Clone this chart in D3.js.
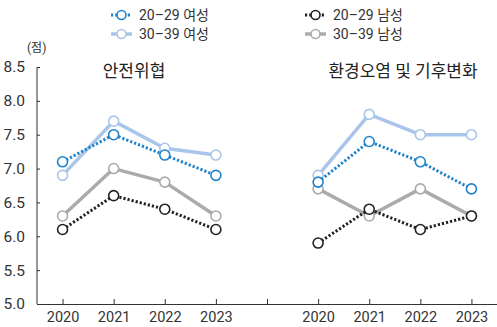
<!DOCTYPE html>
<html><head><meta charset="utf-8">
<script src="https://cdn.jsdelivr.net/npm/d3@7"></script>
<style>
body{margin:0;background:#fff;}
svg{display:block;font-family:"Roboto","Liberation Sans","Noto Sans CJK KR",sans-serif;}
.num{font-family:"Liberation Sans Narrow","Roboto","Noto Sans CJK KR",sans-serif;}
</style></head>
<body><svg id="c" width="497" height="327"></svg>
<script>
const years = ["2020","2021","2022","2023"];
const panels = ["안전위협","환경오염 및 기후변화"];
const yTicks = [5.0,5.5,6.0,6.5,7.0,7.5,8.0,8.5];
const seriesNames = ["20\u201329 여성","30\u201339 여성","20\u201329 남성","30\u201339 남성"];
// values per panel [안전위협, 환경오염 및 기후변화]
const f2029 = [[7.1,7.5,7.2,6.9],[6.8,7.4,7.1,6.7]];
const f3039 = [[6.9,7.7,7.3,7.2],[6.9,7.8,7.5,7.5]];
const m2029 = [[6.1,6.6,6.4,6.1],[5.9,6.4,6.1,6.3]];
const m3039 = [[6.3,7.0,6.8,6.3],[6.7,6.3,6.7,6.3]];

const styles = {
  "20\u201329 여성":{color:"#1f83cc",dash:"2.2,2",width:3},
  "30\u201339 여성":{color:"#a9c6ea",dash:null,width:3.5},
  "20\u201329 남성":{color:"#222",dash:"2.2,2",width:3},
  "30\u201339 남성":{color:"#ababab",dash:null,width:3.5}
};
const seriesData = {
  "20\u201329 여성":f2029,"30\u201339 여성":f3039,"20\u201329 남성":m2029,"30\u201339 남성":m3039
};

const svg = d3.select("#c");
const pL=37, pR=497, pT=67, pB=304;
const slots = [];
years.forEach(y=>slots.push("0_"+y));
slots.push("gap");
years.forEach(y=>slots.push("1_"+y));
const x = d3.scalePoint().domain(slots).range([pL,pR]).padding(0.5);
const y = d3.scaleLinear().domain([5,8.5]).range([pB,pT]);

const txt="#333";
// y axis
const ya = svg.append("g").attr("transform",`translate(${pL},0)`)
  .call(d3.axisLeft(y).tickValues(yTicks).tickFormat(d3.format(".1f")).tickSize(-3).tickPadding(12));
ya.select(".domain").attr("d",`M0,${pT}V${pB}`).attr("stroke","#333");
ya.selectAll(".tick line").attr("stroke","#333");
ya.selectAll("text").attr("class","num").attr("font-size",15.5).attr("fill",txt);

// x axis
const xa = svg.append("g").attr("transform",`translate(0,${pB})`)
  .call(d3.axisBottom(x).tickSize(-5).tickPadding(8).tickFormat(d=>d==="gap"?"":d.split("_")[1]));
xa.select(".domain").attr("d",`M${pL},0.5H${pR}`).attr("stroke","#333");
xa.selectAll(".tick line").attr("stroke","#333");
xa.selectAll("text").attr("class","num").attr("font-size",14.5).attr("fill",txt);

// unit
svg.append("text").attr("x",27).attr("y",52).attr("font-size",12).attr("fill",txt).text("(점)");

// panel titles
const titleX = [134, 403];
panels.forEach((p,i)=>{
  svg.append("text").attr("x",titleX[i]).attr("y",77).attr("text-anchor","middle")
    .attr("font-size",17).attr("fill","#222").text(p);
});

const drawOrder = ["30\u201339 남성","20\u201329 남성","30\u201339 여성","20\u201329 여성"];
const line = d3.line().x(d=>x(d.k)).y(d=>y(d.v));
drawOrder.forEach(name=>{
  const st = styles[name];
  panels.forEach((p,pi)=>{
    const pts = years.map((yr,i)=>({k:pi+"_"+yr,v:seriesData[name][pi][i]}));
    svg.append("path").datum(pts).attr("d",line).attr("fill","none")
      .attr("stroke",st.color).attr("stroke-width",st.width)
      .attr("stroke-dasharray",st.dash).attr("stroke-linejoin","round");
    svg.selectAll(null).data(pts).enter().append("circle")
      .attr("cx",d=>x(d.k)).attr("cy",d=>y(d.v)).attr("r",5)
      .attr("fill","#fff").attr("stroke",st.color).attr("stroke-width",1.6);
  });
});

// legend
const legPos = {
  "20\u201329 여성":[111,15],"30\u201339 여성":[111,34],
  "20\u201329 남성":[305,15],"30\u201339 남성":[305,34]
};
seriesNames.forEach(name=>{
  const st=styles[name]; const [lx,ly]=legPos[name];
  const g=svg.append("g").attr("transform",`translate(${lx},${ly})`);
  g.append("line").attr("x1",0).attr("x2",21).attr("y1",0).attr("y2",0)
    .attr("stroke",st.color).attr("stroke-width",st.width).attr("stroke-dasharray",st.dash);
  g.append("circle").attr("cx",10.5).attr("cy",0).attr("r",4.5).attr("fill","#fff")
    .attr("stroke",st.color).attr("stroke-width",1.6);
  g.append("text").attr("x",28).attr("y",0).attr("dy","0.35em").attr("font-size",14).attr("fill",txt).text(name);
});
</script></body></html>
